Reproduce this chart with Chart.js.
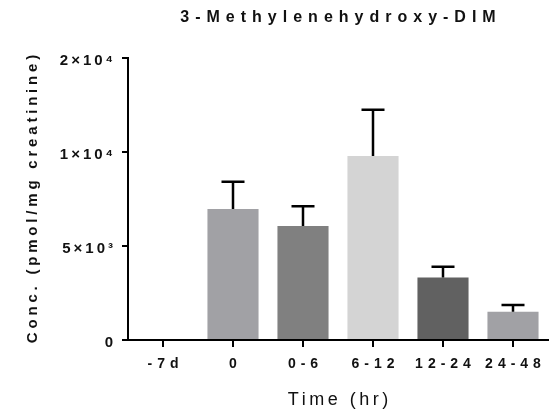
<!DOCTYPE html>
<html>
<head>
<meta charset="utf-8">
<script src="https://cdn.jsdelivr.net/npm/chart.js@4/dist/chart.umd.min.js"></script>
<style>
  html, body { margin: 0; padding: 0; background: #fff; }
  #wrap { width: 552px; height: 420px; }
</style>
</head>
<body>
<div id="wrap"><canvas id="c" width="552" height="420"></canvas></div>
<script>
// Urinary 3-methylenehydroxy-DIM, mean + SEM per collection window
const categories = ['-7d', '0', '0-6', '6-12', '12-24', '24-48'];
const meanValues = [0, 6970, 6060, 9790, 3330, 1500];
const semValues = [0, 1450, 1050, 4710, 570, 360];
const yTickValues = [0, 5000, 10000, 20000];
const yTickLabels = ['0', '5×10³', '1×10⁴', '2×10⁴'];

const barColors = ['#a1a1a5', '#a1a1a5', '#808080', '#d4d4d4', '#616161', '#a1a1a5'];
const FONT = "'Liberation Sans', Arial, 'DejaVu Sans', sans-serif";
const INK = '#111';

Chart.defaults.font.family = FONT;
Chart.defaults.color = INK;

// Linear axis whose slope changes at AXIS_BREAK: the lower part takes
// BREAK_FRACTION of the height, the upper part the rest.
const AXIS_BREAK = 10000;
const BREAK_FRACTION = 2 / 3;

class BrokenLinearScale extends Chart.LinearScale {
  toDecimal(value) {
    if (value <= AXIS_BREAK) {
      return (value - this.min) / (AXIS_BREAK - this.min) * BREAK_FRACTION;
    }
    return BREAK_FRACTION + (value - AXIS_BREAK) / (this.max - AXIS_BREAK) * (1 - BREAK_FRACTION);
  }
  getPixelForValue(value) {
    if (value === null || value === undefined || isNaN(value)) return NaN;
    return this.getPixelForDecimal(this.toDecimal(value));
  }
  getValueForPixel(pixel) {
    const d = this.getDecimalForPixel(pixel);
    if (d <= BREAK_FRACTION) return this.min + d / BREAK_FRACTION * (AXIS_BREAK - this.min);
    return AXIS_BREAK + (d - BREAK_FRACTION) / (1 - BREAK_FRACTION) * (this.max - AXIS_BREAK);
  }
}
BrokenLinearScale.id = 'brokenLinear';
BrokenLinearScale.defaults = Chart.LinearScale.defaults;
Chart.register(BrokenLinearScale);

// Wide tracking for the axis and chart text
const spacing = {
  title: 6,
  x: { ticks: 5, title: 3.5 },
  y: { ticks: 3, title: 3.8 }
};

const letterSpacingPlugin = {
  id: 'letterSpacing',
  beforeDraw(chart) {
    const ctx = chart.ctx;
    Object.values(chart.scales).forEach(scale => {
      if (scale.$spaced) return;
      scale.$spaced = true;
      const sp = spacing[scale.id];
      const drawLabels = scale.drawLabels.bind(scale);
      const drawTitle = scale.drawTitle.bind(scale);
      scale.drawLabels = function (area) {
        ctx.save();
        ctx.letterSpacing = sp.ticks + 'px';
        drawLabels(area);
        ctx.restore();
      };
      scale.drawTitle = function () {
        ctx.save();
        ctx.letterSpacing = sp.title + 'px';
        if (scale.isHorizontal()) {
          ctx.translate(sp.title / 2, 0);
          drawTitle();
        } else {
          // give the rotated title room so it is not squeezed
          const t = scale.top, b = scale.bottom;
          scale.top = t - 40; scale.bottom = b + 40;
          ctx.translate(0, -sp.title / 2);
          drawTitle();
          scale.top = t; scale.bottom = b;
        }
        ctx.restore();
      };
    });
    const tb = chart.titleBlock;
    if (tb && !tb.$spaced) {
      tb.$spaced = true;
      const draw = tb.draw.bind(tb);
      tb.draw = function () {
        const area = chart.chartArea;
        const dx = (area.left + area.right) / 2 - (tb.left + tb.right) / 2 + spacing.title / 2;
        ctx.save();
        ctx.letterSpacing = spacing.title + 'px';
        ctx.translate(dx, 0);
        draw();
        ctx.restore();
      };
    }
  }
};

// Upper SEM whiskers with caps
const errorBarPlugin = {
  id: 'errorBars',
  afterDatasetsDraw(chart) {
    const ctx = chart.ctx;
    const yScale = chart.scales.y;
    const meta = chart.getDatasetMeta(0);
    ctx.save();
    ctx.strokeStyle = '#000';
    ctx.lineWidth = 2.5;
    meta.data.forEach((bar, i) => {
      const err = semValues[i];
      if (!err) return;
      const top = yScale.getPixelForValue(meanValues[i] + err);
      const half = 11.5;
      ctx.beginPath();
      ctx.moveTo(bar.x, bar.y);
      ctx.lineTo(bar.x, top);
      ctx.moveTo(bar.x - half, top);
      ctx.lineTo(bar.x + half, top);
      ctx.stroke();
    });
    ctx.restore();
  }
};

new Chart(document.getElementById('c'), {
  type: 'bar',
  data: {
    labels: categories,
    datasets: [{
      data: meanValues,
      backgroundColor: barColors,
      borderWidth: 0,
      categoryPercentage: 1,
      barPercentage: 0.73
    }]
  },
  plugins: [letterSpacingPlugin, errorBarPlugin],
  options: {
    responsive: false,
    devicePixelRatio: 1,
    animation: false,
    layout: { padding: { left: 0, right: 4, top: 0, bottom: 0 } },
    plugins: {
      legend: { display: false },
      tooltip: { enabled: false },
      title: {
        display: true,
        text: '3-Methylenehydroxy-DIM',
        color: INK,
        font: { family: FONT, size: 16, weight: 'bold', lineHeight: 1.2 },
        padding: { top: 8, bottom: 30.8 }
      }
    },
    scales: {
      x: {
        type: 'category',
        offset: true,
        grid: {
          display: true, drawOnChartArea: false, drawTicks: true,
          tickLength: 7, lineWidth: 2, color: '#000', offset: false
        },
        border: { display: true, color: '#000', width: 2 },
        ticks: {
          color: INK, padding: 9, labelOffset: 2.5,
          maxRotation: 0, autoSkip: false,
          font: { family: FONT, size: 14, weight: 'bold' }
        },
        title: {
          display: true, text: 'Time (hr)', color: INK,
          font: { family: FONT, size: 18, weight: 'normal', lineHeight: 1.2 },
          padding: { top: 0, bottom: 9 }
        },
        afterFit(s) { s.height = 80; }
      },
      y: {
        type: 'brokenLinear',
        min: 0,
        max: 20000,
        afterBuildTicks(s) { s.ticks = yTickValues.map(v => ({ value: v })); },
        grid: {
          display: true, drawOnChartArea: false, drawTicks: true,
          tickLength: 6, lineWidth: 2, color: '#000'
        },
        border: { display: true, color: '#000', width: 2 },
        ticks: {
          color: INK, padding: 6, labelOffset: 3, autoSkip: false,
          font: { family: FONT, size: 15, weight: 'bold' },
          callback: v => yTickLabels[yTickValues.indexOf(v)]
        },
        title: {
          display: true, text: 'Conc. (pmol/mg creatinine)', color: INK,
          font: { family: FONT, size: 15, weight: 'bold', lineHeight: 1.2 },
          padding: { top: 24, bottom: 0 }
        },
        afterFit(s) { s.width = 128; }
      }
    }
  }
});
</script>
</body>
</html>
